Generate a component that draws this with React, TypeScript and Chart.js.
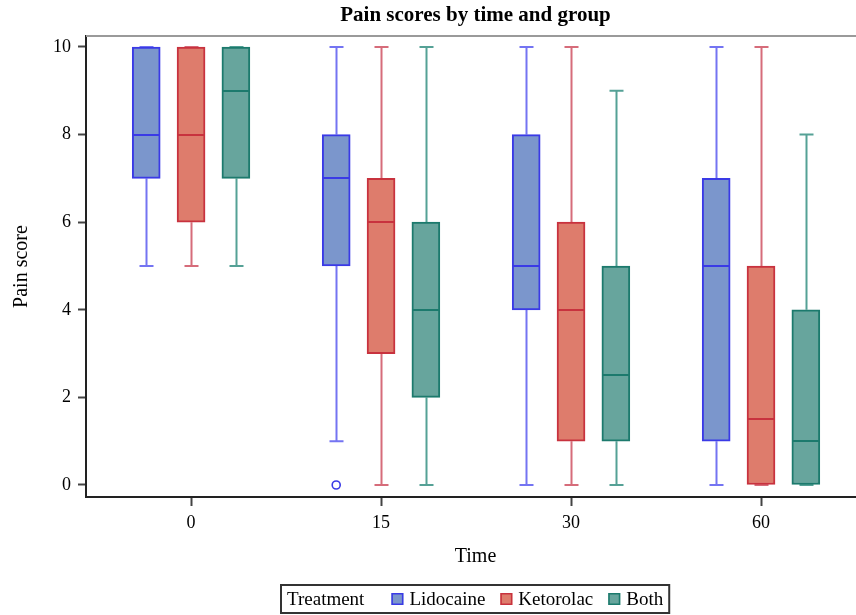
import React, { useEffect, useRef } from "react";
import { Chart, registerables } from "chart.js";

Chart.register(...registerables);

// ---- data ----
const timeLabels = ["0", "15", "30", "60"];
const groupNames = ["Lidocaine", "Ketorolac", "Both"];

const lidoMin = [5, 1, 0, 0];
const lidoQ1 = [7, 5, 4, 1];
const lidoMed = [8, 7, 5, 5];
const lidoQ3 = [10, 8, 8, 7];
const lidoMax = [10, 10, 10, 10];
const lidoOut = [[], [0], [], []];

const ketoMin = [5, 0, 0, 0];
const ketoQ1 = [6, 3, 1, 0];
const ketoMed = [8, 6, 4, 1.5];
const ketoQ3 = [10, 7, 6, 5];
const ketoMax = [10, 10, 10, 10];
const ketoOut = [[], [], [], []];

const bothMin = [5, 0, 0, 0];
const bothQ1 = [7, 2, 1, 0];
const bothMed = [9, 4, 2.5, 1];
const bothQ3 = [10, 6, 5, 4];
const bothMax = [10, 10, 9, 8];
const bothOut = [[], [], [], []];

const yTicks = [0, 2, 4, 6, 8, 10];

// ---- styles ----
const fills = ["#7B96CC", "#DE7C6C", "#67A59D"];
const borders = ["#3A3AE6", "#C8323E", "#1C7A6D"];
const whiskerColors = ["#7474F2", "#D66C7A", "#55A196"];
const offsets = [-0.236, 0, 0.236];
const SERIF = "'Liberation Serif', 'Times New Roman', serif";

const stats = [
  { min: lidoMin, q1: lidoQ1, med: lidoMed, q3: lidoQ3, max: lidoMax, out: lidoOut },
  { min: ketoMin, q1: ketoQ1, med: ketoMed, q3: ketoQ3, max: ketoMax, out: ketoOut },
  { min: bothMin, q1: bothQ1, med: bothMed, q3: bothQ3, max: bothMax, out: bothOut },
];

const BOX_W = 28;
const CAP_W = 14;

const boxPlugin = {
  id: "boxExtras",
  beforeDatasetsDraw(chart: any) {
    const { ctx, scales } = chart;
    const xs = scales.x;
    const ys = scales.y;
    ctx.save();
    // top frame
    ctx.strokeStyle = "#9a9a9a";
    ctx.lineWidth = 2;
    ctx.beginPath();
    ctx.moveTo(chart.chartArea.left, chart.chartArea.top);
    ctx.lineTo(chart.chartArea.right, chart.chartArea.top);
    ctx.stroke();
    stats.forEach((s, g) => {
      ctx.strokeStyle = whiskerColors[g];
      ctx.lineWidth = 2;
      timeLabels.forEach((_, i) => {
        const cx = Math.round(xs.getPixelForValue(i + offsets[g])) + 0.5;
        const yMin = ys.getPixelForValue(s.min[i]);
        const yMax = ys.getPixelForValue(s.max[i]);
        const yQ1 = ys.getPixelForValue(s.q1[i]);
        const yQ3 = ys.getPixelForValue(s.q3[i]);
        ctx.beginPath();
        ctx.moveTo(cx, yQ3);
        ctx.lineTo(cx, yMax);
        ctx.moveTo(cx, yQ1);
        ctx.lineTo(cx, yMin);
        ctx.moveTo(cx - CAP_W / 2, yMax);
        ctx.lineTo(cx + CAP_W / 2, yMax);
        ctx.moveTo(cx - CAP_W / 2, yMin);
        ctx.lineTo(cx + CAP_W / 2, yMin);
        ctx.stroke();
      });
    });
    ctx.restore();
  },
  afterDatasetsDraw(chart: any) {
    const { ctx, scales } = chart;
    const xs = scales.x;
    const ys = scales.y;
    ctx.save();
    stats.forEach((s, g) => {
      timeLabels.forEach((_, i) => {
        const cx = xs.getPixelForValue(i + offsets[g]);
        const yMed = Math.round(ys.getPixelForValue(s.med[i]));
        ctx.strokeStyle = borders[g];
        ctx.lineWidth = 2;
        ctx.beginPath();
        ctx.moveTo(cx - BOX_W / 2 + 1, yMed);
        ctx.lineTo(cx + BOX_W / 2 - 1, yMed);
        ctx.stroke();
        s.out[i].forEach((v: number) => {
          const oy = ys.getPixelForValue(v);
          ctx.strokeStyle = borders[g];
          ctx.lineWidth = 1.6;
          ctx.beginPath();
          ctx.arc(cx, oy, 4, 0, Math.PI * 2);
          ctx.stroke();
        });
      });
    });
    ctx.restore();
  },
  afterDraw(chart: any) {
    const { ctx, chartArea } = chart;
    const centerX = 475.5;
    ctx.save();
    ctx.fillStyle = "#000";
    // title
    ctx.font = `bold 21px ${SERIF}`;
    ctx.textAlign = "center";
    ctx.textBaseline = "middle";
    ctx.fillText("Pain scores by time and group", centerX, 16);
    // x title
    ctx.font = `20px ${SERIF}`;
    ctx.fillText("Time", centerX, 557);
    // y title
    ctx.save();
    ctx.translate(22, (chartArea.top + chartArea.bottom) / 2);
    ctx.rotate(-Math.PI / 2);
    ctx.fillText("Pain score", 0, 0);
    ctx.restore();
    // legend
    ctx.font = `19px ${SERIF}`;
    ctx.textAlign = "left";
    const padL = 6, padR = 6, gapTitle = 27, sq = 12, sqGap = 6, itemGap = 15;
    const titleW = ctx.measureText("Treatment").width;
    const itemWs = groupNames.map((n) => ctx.measureText(n).width);
    let total = padL + titleW + gapTitle + padR;
    itemWs.forEach((w, k) => {
      total += sq + sqGap + w + (k < itemWs.length - 1 ? itemGap : 0);
    });
    const bx = Math.round(centerX - total / 2);
    const by = 585, bh = 28, cy = by + bh / 2;
    ctx.strokeStyle = "#333";
    ctx.lineWidth = 2;
    ctx.strokeRect(bx, by, total, bh);
    let x = bx + padL;
    ctx.fillText("Treatment", x, cy + 1);
    x += titleW + gapTitle;
    groupNames.forEach((n, k) => {
      ctx.fillStyle = fills[k];
      ctx.fillRect(x, cy - sq / 2, sq, sq);
      ctx.strokeStyle = borders[k];
      ctx.lineWidth = 1.5;
      ctx.strokeRect(x + 0.75, cy - sq / 2 + 0.75, sq - 1.5, sq - 1.5);
      x += sq + sqGap;
      ctx.fillStyle = "#000";
      ctx.fillText(n, x, cy + 1);
      x += itemWs[k] + itemGap;
    });
    ctx.restore();
  },
};

export default function App() {
  const ref = useRef<HTMLCanvasElement | null>(null);
  useEffect(() => {
    if (!ref.current) return;
    const datasets = stats.map((s, g) => ({
      type: "bar" as const,
      label: groupNames[g],
      data: timeLabels.map((_, i) => ({ x: i + offsets[g], y: [s.q1[i], s.q3[i]] })),
      backgroundColor: fills[g],
      borderColor: borders[g],
      borderWidth: 2,
      borderSkipped: false,
      barThickness: BOX_W,
      grouped: false,
    }));
    const chart = new Chart(ref.current, {
      type: "bar",
      data: { datasets: datasets as any },
      plugins: [boxPlugin],
      options: {
        responsive: false,
        animation: false,
        layout: { padding: { top: 36, left: 0, right: 0, bottom: 0 } },
        plugins: { legend: { display: false }, tooltip: { enabled: false }, title: { display: false } },
        scales: {
          x: {
            type: "linear",
            min: -0.553,
            max: 3.5,
            offset: false,
            afterBuildTicks: (s: any) => {
              s.ticks = timeLabels.map((_, i) => ({ value: i }));
            },
            afterFit: (s: any) => {
              s.height = 118;
            },
            ticks: {
              callback: (v: any) => timeLabels[v] ?? "",
              font: { family: SERIF, size: 18 },
              color: "#000",
              padding: 6,
              maxRotation: 0,
            },
            grid: {
              offset: false,
              drawOnChartArea: false,
              drawTicks: true,
              tickLength: 9,
              tickColor: "#444",
              tickWidth: 2,
            },
            border: { display: true, color: "#222", width: 2 },
          },
          y: {
            type: "linear",
            min: -0.274,
            max: 10.251,
            afterBuildTicks: (s: any) => {
              s.ticks = yTicks.map((v) => ({ value: v }));
            },
            afterFit: (s: any) => {
              s.width = 86;
            },
            ticks: {
              font: { family: SERIF, size: 18 },
              color: "#000",
              padding: 7,
            },
            grid: {
              drawOnChartArea: false,
              drawTicks: true,
              tickLength: 8,
              tickColor: "#444",
              tickWidth: 2,
            },
            border: { display: true, color: "#222", width: 2 },
          },
        },
      } as any,
    });
    return () => chart.destroy();
  }, []);
  return (
    <div style={{ position: "absolute", left: 0, top: 0, width: 856, height: 615, background: "#fff" }}>
      <canvas ref={ref} width={856} height={615} />
    </div>
  );
}
